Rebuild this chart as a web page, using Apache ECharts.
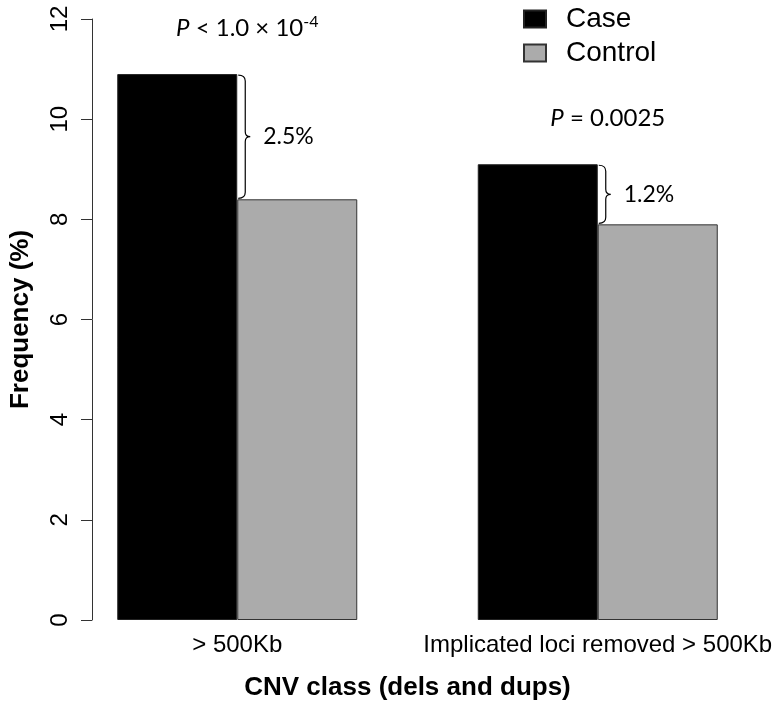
<!DOCTYPE html>
<html>
<head>
<meta charset="utf-8">
<script src="https://cdn.jsdelivr.net/npm/echarts@6/dist/echarts.min.js"></script>
<style>
  html, body { margin: 0; padding: 0; background: #fff; }
  #chart1 { width: 780px; height: 719px; }
</style>
</head>
<body>
<div id="chart1"></div>
<script>
// data
const categories = ['> 500Kb', 'Implicated loci removed > 500Kb'];
const caseValues = [10.9, 9.1];
const controlValues = [8.4, 7.9];
const diffLabels = ['2.5%', '1.2%'];
const pLabels = ['{i|P} < 1.0 × 10{sup|-4}', '{i|P} = 0.0025'];

const chart = echarts.init(document.getElementById('chart1'));

const axisFont = 'Liberation Sans, Arial, sans-serif';
const noteFont = 'Lato, Open Sans, sans-serif';

chart.setOption({
  animation: false,
  grid: { left: 57, width: 721, top: 19, height: 601 },
  legend: {
    orient: 'vertical',
    left: 518,
    top: 0,
    itemWidth: 22,
    itemHeight: 17,
    itemGap: 6,
    icon: 'rect',
    textStyle: { fontSize: 28, color: '#000', fontFamily: axisFont, padding: [0, 0, 0, 15] },
    data: ['Case', 'Control']
  },
  xAxis: {
    type: 'category',
    data: categories,
    axisLine: { show: false },
    axisTick: { show: false },
    axisLabel: { fontSize: 24, color: '#000', fontFamily: axisFont, margin: 13, interval: 0 },
    name: 'CNV class (dels and dups)',
    nameLocation: 'middle',
    nameGap: 55,
    nameTextStyle: { fontSize: 26, fontWeight: 'bold', color: '#000', fontFamily: axisFont, padding: [0, 20, 0, 0] }
  },
  yAxis: {
    type: 'value',
    min: 0,
    max: 12,
    interval: 2,
    offset: -35,
    axisLine: { show: true, lineStyle: { color: '#333', width: 1 } },
    axisTick: { show: true, length: 11, lineStyle: { color: '#333' } },
    splitLine: { show: false },
    axisLabel: { rotate: 90, fontSize: 24, color: '#000', fontFamily: axisFont, margin: 20 },
    name: 'Frequency (%)',
    nameLocation: 'middle',
    nameRotate: 90,
    nameGap: 58,
    nameTextStyle: { fontSize: 26, fontWeight: 'bold', color: '#000', fontFamily: axisFont }
  },
  series: [
    {
      name: 'Case',
      type: 'bar',
      data: caseValues,
      barWidth: 120,
      barGap: '0%',
      itemStyle: { color: '#000', borderColor: '#222', borderWidth: 1 }
    },
    {
      name: 'Control',
      type: 'bar',
      data: controlValues,
      barWidth: 120,
      barGap: '0%',
      itemStyle: { color: '#ababab', borderColor: '#333', borderWidth: 1 }
    },
    {
      // braces, difference labels and P values
      type: 'custom',
      silent: true,
      z: 10,
      data: caseValues.map((v, i) => [i, v, controlValues[i]]),
      renderItem(params, api) {
        const i = params.dataIndex;
        const top = api.coord([api.value(0), api.value(1)]);
        const bot = api.coord([api.value(0), api.value(2)]);
        const x0 = top[0] + 1;
        const y1 = top[1] + 1, y2 = bot[1] - 1, ym = (y1 + y2) / 2;
        const w = 7;
        const path = `M${x0},${y1} Q${x0 + w},${y1} ${x0 + w},${y1 + 6} L${x0 + w},${ym - 5} Q${x0 + w},${ym} ${x0 + w + 5},${ym} Q${x0 + w},${ym} ${x0 + w},${ym + 5} L${x0 + w},${y2 - 6} Q${x0 + w},${y2} ${x0},${y2}`;
        return {
          type: 'group',
          children: [
            {
              type: 'path',
              shape: { pathData: path },
              style: { stroke: '#000', lineWidth: 1.2, fill: null }
            },
            {
              type: 'text',
              style: {
                text: diffLabels[i], x: x0 + 25, y: ym,
                fontSize: 23, fontFamily: noteFont, fill: '#000',
                align: 'left', verticalAlign: 'middle'
              }
            },
            {
              type: 'text',
              style: {
                text: pLabels[i], x: top[0] + 10, y: top[1] - 46,
                fontSize: 24, fontFamily: noteFont, fill: '#000',
                align: 'center', verticalAlign: 'middle',
                rich: {
                  i: { fontStyle: 'italic', fontSize: 24, fontFamily: noteFont },
                  sup: { fontSize: 16, fontFamily: noteFont, verticalAlign: 'top', padding: [0, 0, 12, 0] }
                }
              }
            }
          ]
        };
      }
    }
  ]
});
</script>
</body>
</html>
